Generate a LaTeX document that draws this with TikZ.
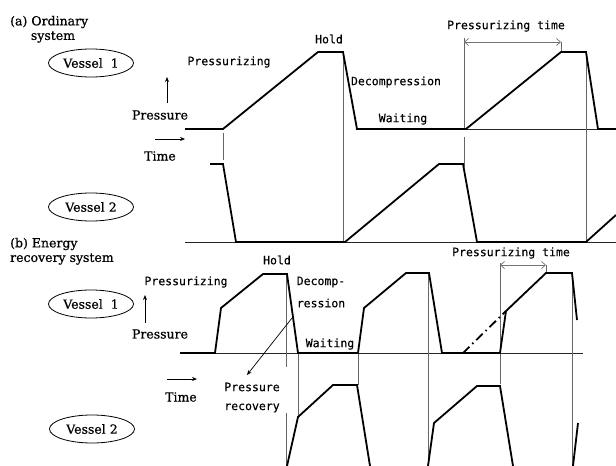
\documentclass[tikz,border=0pt]{standalone}
\usepackage{fontspec}
\setmainfont{DejaVu Serif}[FakeBold=0.7]
\newfontfamily\gothic{DejaVu Sans Mono}[FakeBold=0.3]
\usetikzlibrary{shapes.geometric,arrows.meta}
\tikzset{
  curve/.style={line width=1.8pt, black, line join=miter},
  base/.style={line width=0.8pt, black!85},
  guide/.style={line width=0.7pt, black!60},
  dim/.style={line width=0.7pt, black!55, {Straight Barb[length=4pt,width=7pt]}-{Straight Barb[length=4pt,width=7pt]}},
  vessel/.style={draw, ellipse, line width=0.8pt, minimum width=85pt, minimum height=28pt, inner sep=0pt, font=\fontsize{12.5}{14}\selectfont},
  serif/.style={font=\fontsize{12.5}{14}\selectfont, inner sep=0pt},
  goth/.style={font=\gothic\fontsize{11.5}{13}\selectfont, inner sep=0pt},
  ptr/.style={line width=0.7pt, black, -{Stealth[length=5pt,width=4pt]}}
}
\begin{document}
\begin{tikzpicture}[x=1pt,y=-1pt]
\useasboundingbox (0,0) rectangle (616,466);
% ---------- (a) ordinary system ----------
\node[serif,anchor=west] (ta1) at (10,22) {(a) Ordinary};
\node[serif] (ta2) at (53,37) {system};
\node[vessel] (va1) at (91,63) {Vessel\ \ 1};
\node[vessel] (va2) at (91,207) {Vessel 2};
\node[serif] (pa) at (160,115) {Pressure};
\node[serif] (tma) at (160,156) {Time};
\coordinate (pa0) at (167,103); \coordinate (pa1) at (167,77);
\draw[ptr] (pa0) -- (pa1);
\coordinate (ta0) at (155,139); \coordinate (ta1e) at (185,139);
\draw[ptr] (ta0) -- (ta1e);
\node[goth] (lpa) at (229,62) {Pressurizing};
\node[goth] (lha) at (329,39) {Hold};
\node[goth] (lda) at (396,82) {Decompression};
\node[goth] (lwa) at (403,119) {Waiting};
\node[goth] (lta) at (506,26) {Pressurizing time};
% baselines
\draw[base] (357,129) -- (616,129);
\draw[base] (185,242) -- (616,242);
% guides
\draw[guide] (343,52) -- (343,242);
\draw[guide] (586,52) -- (586,242);
\draw[guide] (464,38) -- (464,130);
\draw[guide] (464,137) -- (464,167);
\draw[guide] (223,133) -- (223,160);
\draw[guide] (561,42) -- (561,52);
\coordinate (da0) at (464,42); \coordinate (da1) at (561,42);
\draw[dim] (da0) -- (da1);
% curves
\draw[curve] (185,129) -- (223,129) -- (318,52) -- (343,52) -- (357,129) -- (466,129)
  -- (561,52) -- (586,52) -- (598,129) -- (616,129);
\draw[curve] (210,164) -- (223,164) -- (236,242) -- (345,242) -- (439,164) -- (463,164)
  -- (477,242) -- (586,242) -- (616,215);
% ---------- (b) energy recovery system ----------
\node[serif,anchor=west] (tb1) at (10,244) {(b) Energy};
\node[serif,anchor=west] (tb2) at (10,259) {recovery system};
\node[vessel] (vb1) at (91,304) {Vessel\ \ 1};
\node[vessel] (vb2) at (92,429) {Vessel 2};
\node[serif] (pb) at (160,334) {Pressure};
\node[serif] (tmb) at (181,397) {Time};
\coordinate (pb0) at (145,323); \coordinate (pb1) at (145,295);
\draw[ptr] (pb0) -- (pb1);
\coordinate (tb0) at (167,379); \coordinate (tb1e) at (197,379);
\draw[ptr] (tb0) -- (tb1e);
\node[goth] (lpb) at (186,282) {Pressurizing};
\node[goth] (lhb) at (277,260) {Hold};
\node[goth] (ldb1) at (321,282) {Decomp-};
\node[goth] (ldb2) at (321,303) {ression};
\node[goth] (lwb) at (330,344) {Waiting};
\node[goth] (lrb1) at (252,387) {Pressure};
\node[goth] (lrb2) at (252,408) {recovery};
\node[goth] (ltb) at (511,253) {Pressurizing time};
% baseline
\draw[base] (180,353) -- (583,353);
% guides
\draw[guide] (286,274) -- (286,367);
\draw[guide] (286,413) -- (286,466);
\draw[guide] (298,353) -- (298,417);
\draw[guide] (358,353) -- (358,385);
\draw[guide] (428,273) -- (428,466);
\draw[guide] (500,263) -- (500,384);
\draw[guide] (572,273) -- (572,466);
\draw[guide] (546,265) -- (546,273);
\coordinate (db0) at (500,265); \coordinate (db1) at (546,265);
\draw[dim] (db0) -- (db1);
% recovery arrow
\coordinate (r0) at (292,318); \coordinate (r1) at (247,375);
\draw[ptr] (r0) -- (r1);
% curves
\draw[curve] (180,353) -- (215,353) -- (221,308) -- (263,274) -- (287,274) -- (298,353)
  -- (358,353) -- (364,308) -- (406,273) -- (429,273) -- (442,353) -- (500,353) -- (506,311);
\draw[curve, dash pattern=on 9pt off 4pt on 1.5pt off 4pt] (463,353) -- (506,311);
\draw[curve] (506,311) -- (546,273) -- (572,273) -- (577,320);
\draw[curve] (287,466) -- (298,417) -- (333,385) -- (357,385) -- (370,466);
\draw[curve] (428,466) -- (434,423) -- (477,386) -- (500,386) -- (513,466);
\draw[curve] (573,466) -- (578,423);
\end{tikzpicture}
\end{document}
